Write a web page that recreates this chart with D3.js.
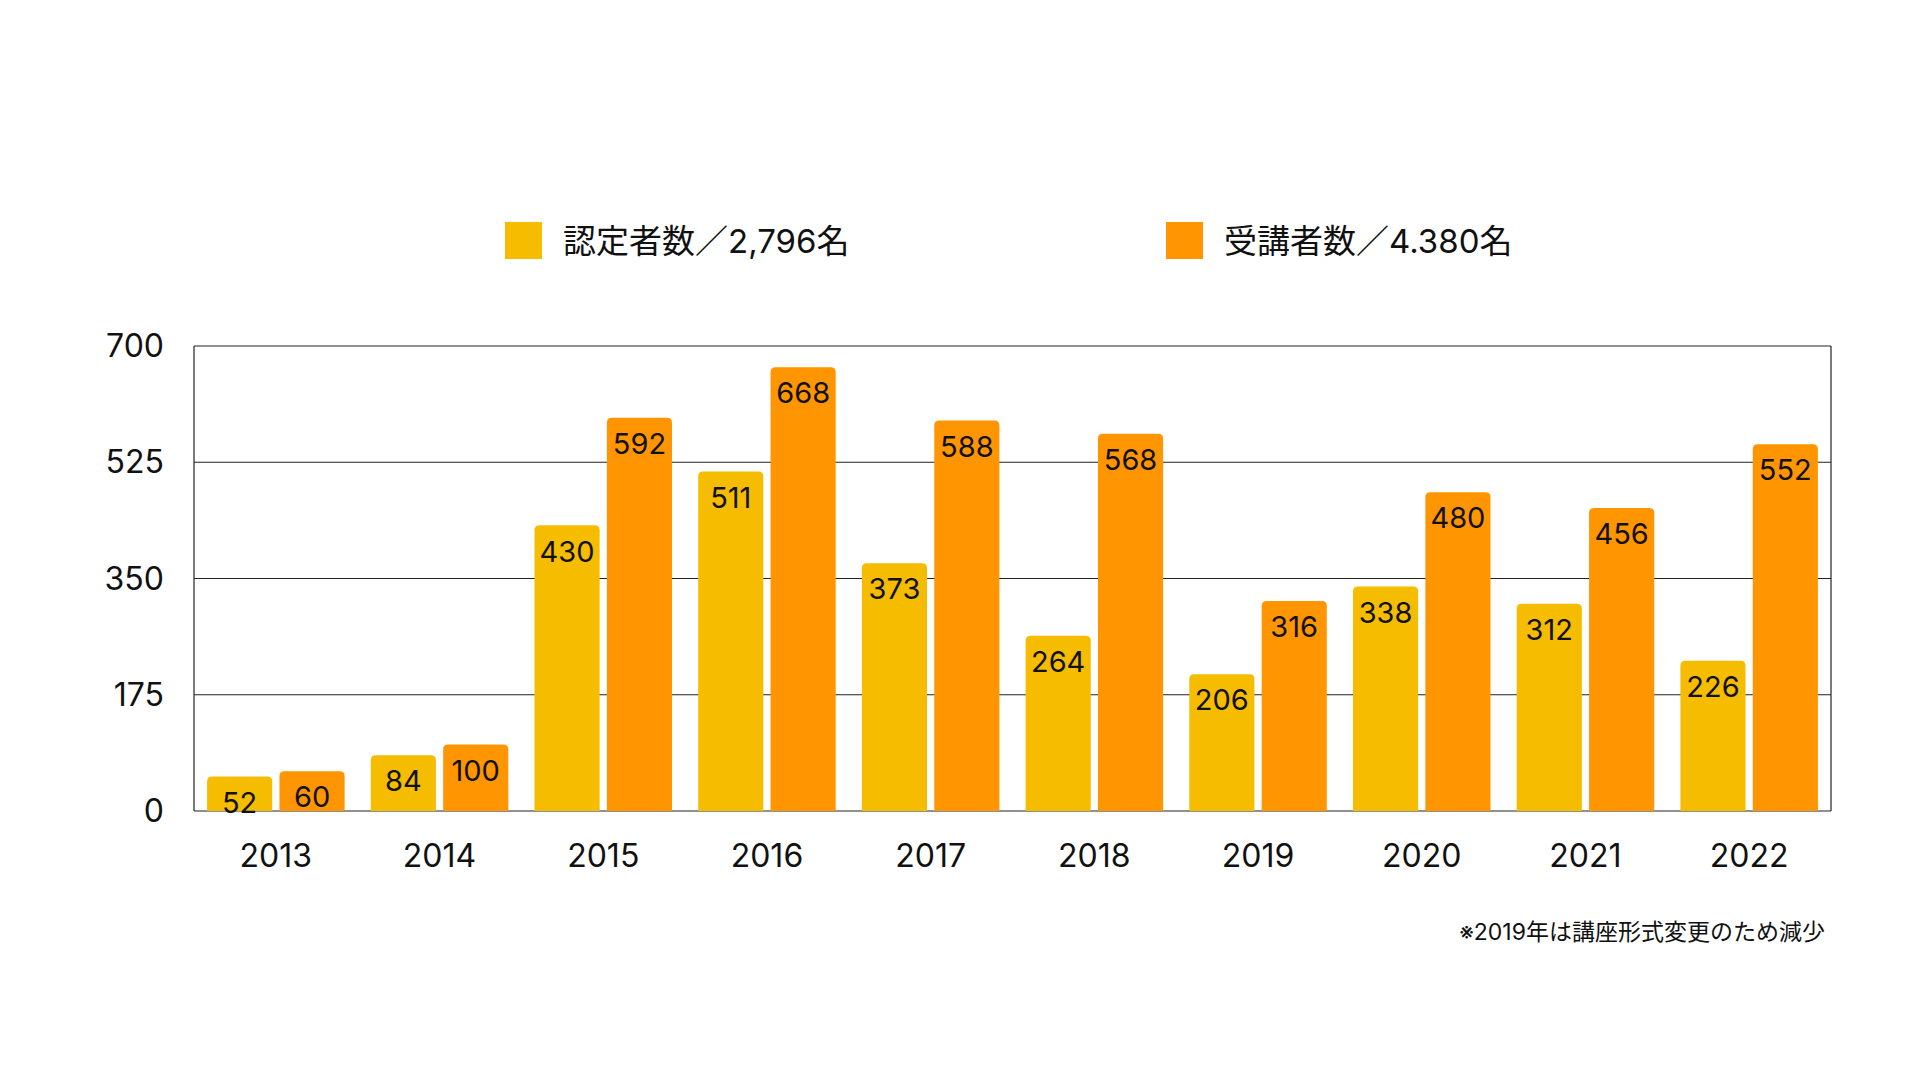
<!DOCTYPE html>
<html><head><meta charset="utf-8">
<script src="https://cdn.jsdelivr.net/npm/d3@7"></script>
<style>body{margin:0;background:#fff;font-family:Inter,"Noto Sans CJK JP",sans-serif;}</style>
</head><body><div id="chart"></div>
<script>
var years = ["2013","2014","2015","2016","2017","2018","2019","2020","2021","2022"];
var certified = [52,84,430,511,373,264,206,338,312,226];
var attendees = [60,100,592,668,588,568,316,480,456,552];
var yTicks = [0,175,350,525,700];
var seriesNames = ["認定者数／2,796名","受講者数／4.380名"];
var colors = ["#F5BC00","#FF9500"];

var W = 1920, H = 1080;
var m = {left:194, right:89, top:346, bottom:269};
var w = W - m.left - m.right, h = H - m.top - m.bottom;

var svg = d3.select("#chart").append("svg").attr("width", W).attr("height", H);
var g = svg.append("g").attr("transform", "translate(" + m.left + "," + m.top + ")");

var x = d3.scaleBand().domain(years).range([0, w]).paddingInner(0.16).paddingOuter(0.08);
var x1 = d3.scaleBand().domain([0,1]).range([0, x.bandwidth()]).paddingInner(0.1);
var y = d3.scaleLinear().domain([0,700]).range([h, 0]);

// grid + frame
g.selectAll(".grid").data(yTicks).enter().append("line")
  .attr("x1", 0).attr("x2", w)
  .attr("y1", function (d) { return y(d); }).attr("y2", function (d) { return y(d); })
  .attr("stroke", "#222").attr("stroke-width", 1.2);
g.append("line").attr("x1",0).attr("x2",0).attr("y1",0).attr("y2",h).attr("stroke","#222").attr("stroke-width",1.2);
g.append("line").attr("x1",w).attr("x2",w).attr("y1",0).attr("y2",h).attr("stroke","#222").attr("stroke-width",1.2);

// y labels
g.selectAll(".ylab").data(yTicks).enter().append("text")
  .attr("x", -30).attr("y", function (d) { return y(d); }).attr("dy", "0.35em")
  .attr("text-anchor", "end").attr("font-size", 32).attr("fill", "#111")
  .text(function (d) { return d; });

// bars
var rows = years.map(function (yr, i) { return {year: yr, vals: [certified[i], attendees[i]]}; });
var grp = g.selectAll(".grp").data(rows).enter().append("g")
  .attr("transform", function (d) { return "translate(" + x(d.year) + ",0)"; });
grp.selectAll("path").data(function (d) { return d.vals; }).enter().append("path")
  .attr("fill", function (d, i) { return colors[i]; })
  .attr("d", function (d, i) {
    var x0 = x1(i), bw = x1.bandwidth(), top = y(d), r = 5;
    return "M" + x0 + "," + h + "V" + (top + r) + "Q" + x0 + "," + top + " " + (x0 + r) + "," + top +
      "H" + (x0 + bw - r) + "Q" + (x0 + bw) + "," + top + " " + (x0 + bw) + "," + (top + r) + "V" + h + "Z";
  });
grp.selectAll("text").data(function (d) { return d.vals; }).enter().append("text")
  .attr("x", function (d, i) { return x1(i) + x1.bandwidth() / 2; })
  .attr("y", function (d) { return y(d) + 26; })
  .attr("dy", "0.35em").attr("text-anchor", "middle")
  .attr("font-size", 29).attr("fill", "#111")
  .text(function (d) { return d; });

// x labels
g.selectAll(".xlab").data(years).enter().append("text")
  .attr("x", function (d) { return x(d) + x.bandwidth() / 2; })
  .attr("y", h + 45).attr("dy", "0.35em").attr("text-anchor", "middle")
  .attr("font-size", 32).attr("fill", "#111").text(function (d) { return d; });

// legend
var legX = [505, 1166];
seriesNames.forEach(function (name, i) {
  svg.append("rect").attr("x", legX[i]).attr("y", 222).attr("width", 37).attr("height", 37).attr("fill", colors[i]);
  svg.append("text").attr("x", legX[i] + 58).attr("y", 241).attr("dy", "0.35em")
    .attr("font-size", 33).attr("fill", "#111").text(name);
});

// note
svg.append("text").attr("x", 1825).attr("y", 932).attr("dy", "0.35em").attr("text-anchor", "end")
  .attr("font-size", 23).attr("fill", "#111").text("※2019年は講座形式変更のため減少");
</script></body></html>
